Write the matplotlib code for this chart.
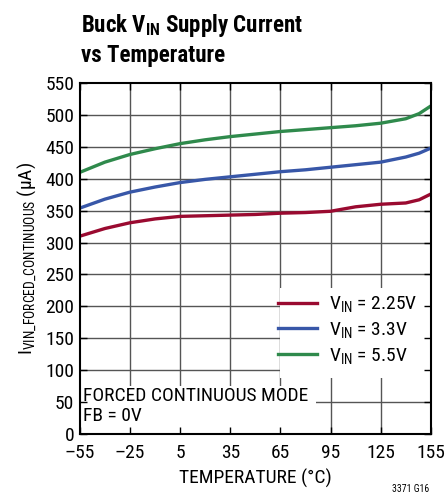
import matplotlib.pyplot as plt
from matplotlib.patches import Rectangle

FONT = ["Roboto Condensed", "DejaVu Sans"]
plt.rcParams["font.family"] = FONT
plt.rcParams["mathtext.fontset"] = "custom"
plt.rcParams["mathtext.rm"] = "Roboto Condensed"
plt.rcParams["mathtext.it"] = "Roboto Condensed"
plt.rcParams["mathtext.bf"] = "Roboto Condensed:bold"

# data
temp = [-55, -40, -25, -10, 5, 20, 35, 50, 65, 80, 95, 110, 125, 140, 148, 155]
i_225 = [310, 322, 331, 337, 341, 342, 343, 344, 346, 347, 349, 356, 360, 362, 367, 376]
i_33 = [354, 368, 379, 387, 394, 399, 403, 407, 411, 414, 418, 422, 426, 434, 440, 448]
i_55 = [410, 426, 438, 447, 455, 461, 466, 470, 474, 477, 480, 483, 487, 494, 502, 514]

x_ticks = [-55, -25, 5, 35, 65, 95, 125, 155]
y_ticks = list(range(0, 551, 50))

FS = 14

fig = plt.figure(figsize=(4.46, 5.0), dpi=100)
ax = fig.add_axes([0.179, 0.132, 0.787, 0.702])

# grid drawn by hand so the white boxes can cover it but not the ticks
for t in x_ticks[1:-1]:
    ax.axvline(t, color="#555555", lw=1.0, zorder=0.5)
for v in y_ticks[1:-1]:
    ax.axhline(v, color="#555555", lw=1.0, zorder=0.5)

# white patches behind legend and note
ax.add_patch(Rectangle((0.57, 88), 0.43, 141, transform=ax.get_yaxis_transform(),
                       facecolor="white", edgecolor="none", zorder=1))
ax.add_patch(Rectangle((-55, 0), 141, 75, facecolor="white", edgecolor="none", zorder=1))

ax.plot(temp, i_225, color="#9a0a30", lw=2.4, zorder=3, label=r"V$_{\mathrm{IN}}$ = 2.25V")
ax.plot(temp, i_33, color="#3857a8", lw=2.4, zorder=3, label=r"V$_{\mathrm{IN}}$ = 3.3V")
ax.plot(temp, i_55, color="#2f8a4c", lw=2.4, zorder=3, label=r"V$_{\mathrm{IN}}$ = 5.5V")

ax.set_xlim(-55, 155)
ax.set_ylim(0, 550)
ax.set_xticks(x_ticks)
ax.set_xticklabels([str(t).replace("-", "\u2013") for t in x_ticks])
ax.set_yticks(y_ticks)
ax.tick_params(direction="in", length=5, width=1, top=True, right=True,
               labelsize=FS, colors="black", pad=4)
ax.tick_params(axis="x", pad=7)
for s in ax.spines.values():
    s.set_linewidth(1.5)
    s.set_zorder(4)

leg = ax.legend(loc="lower right", bbox_to_anchor=(1.0, 0.155), frameon=False,
                fontsize=FS, handlelength=2.0, handletextpad=0.6,
                labelspacing=0.3, borderaxespad=0.3)
leg.set_zorder(5)

ax.text(-53, 44, "FORCED CONTINUOUS MODE\nFB = 0V", fontsize=FS,
        va="center", ha="left", linespacing=1.1, zorder=5)

ax.set_xlabel("TEMPERATURE (\u00b0C)", fontsize=FS, labelpad=5)
ax.set_ylabel(r"I$_{\mathrm{VIN\_FORCED\_CONTINUOUS}}$" + " (\u03bcA)", fontsize=FS, labelpad=5)

fig.text(0.181, 0.936, r"Buck V$_{\mathbf{IN}}$ Supply Current",
         fontsize=16.5, fontweight="bold", ha="left", va="baseline")
fig.text(0.181, 0.876, "vs Temperature",
         fontsize=16.5, fontweight="bold", ha="left", va="baseline")
fig.text(0.963, 0.012, "3371 G16", fontsize=7, ha="right", va="bottom")

fig.savefig("out.png", dpi=100)
